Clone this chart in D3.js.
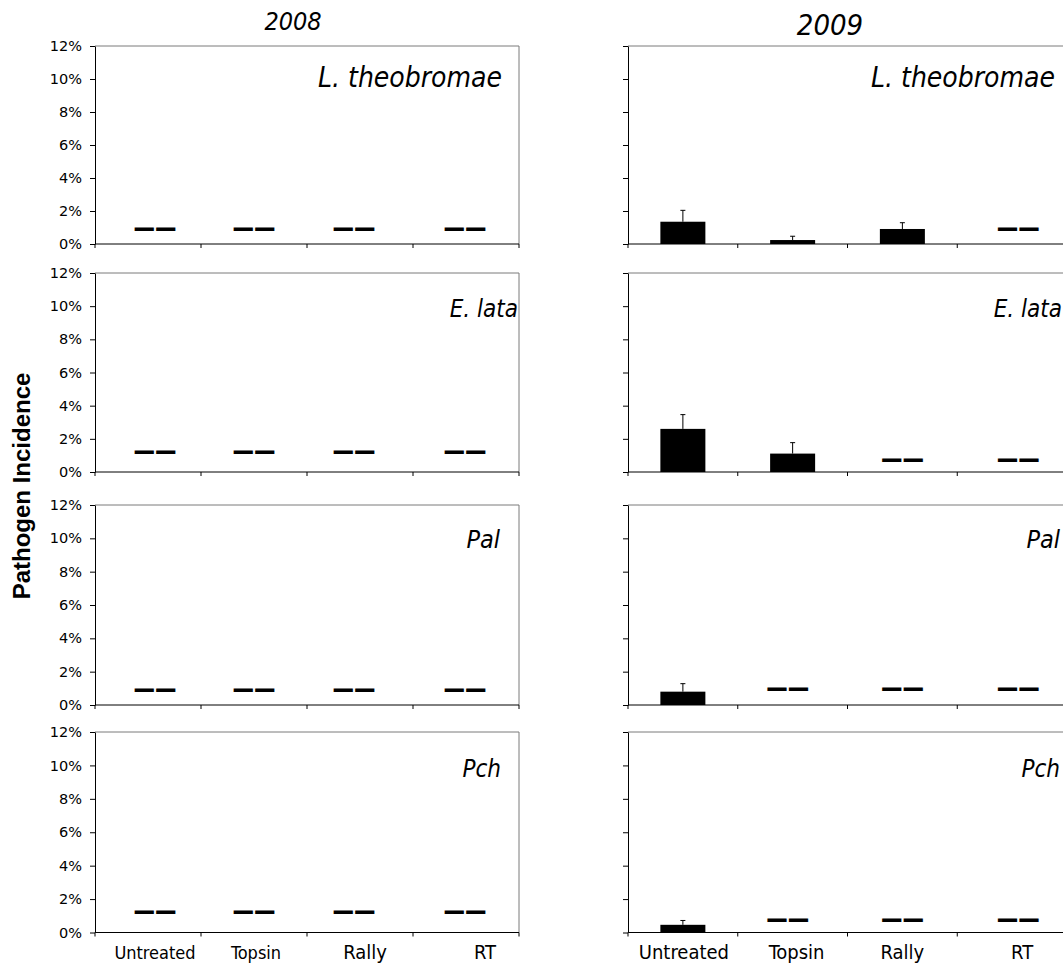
<!DOCTYPE html>
<html>
<head>
<meta charset="utf-8">
<script src="https://cdn.jsdelivr.net/npm/d3@7"></script>
<style>
  body { margin: 0; background: #fff; }
  svg { display: block; }
</style>
</head>
<body>
<svg id="chart" width="1063" height="965"></svg>
<script>
// ---- data ----
const categories = ["Untreated", "Topsin", "Rally", "RT"];
const years = ["2008", "2009"];
const pathogens = ["L. theobromae", "E. lata", "Pal", "Pch"];
const yTickValues = [0, 2, 4, 6, 8, 10, 12];
const yTickLabels = ["0%", "2%", "4%", "6%", "8%", "10%", "12%"];
const yAxisTitle = "Pathogen Incidence";

// mean incidence (%) per treatment
const theobromae2008 = [0, 0, 0, 0];
const lata2008 = [0, 0, 0, 0];
const pal2008 = [0, 0, 0, 0];
const pch2008 = [0, 0, 0, 0];
const theobromae2009 = [1.35, 0.24, 0.91, 0];
const lata2009 = [2.6, 1.11, 0, 0];
const pal2009 = [0.8, 0, 0, 0];
const pch2009 = [0.46, 0, 0, 0];

// standard error (%)
const theobromae2009Err = [0.69, 0.23, 0.38, 0];
const lata2009Err = [0.86, 0.66, 0, 0];
const pal2009Err = [0.48, 0, 0, 0];
const pch2009Err = [0.26, 0, 0, 0];
const noErr = [0, 0, 0, 0];

// level (%) where the "not detected" dash is written; null = no dash
const theobromae2008Dash = [0.89, 0.89, 0.89, 0.89];
const lata2008Dash = [1.19, 1.19, 1.19, 1.19];
const pal2008Dash = [0.9, 0.9, 0.9, 0.9];
const pch2008Dash = [1.22, 1.22, 1.22, 1.22];
const theobromae2009Dash = [null, null, null, 0.89];
const lata2009Dash = [null, null, 0.73, 0.73];
const pal2009Dash = [null, 0.94, 0.94, 0.94];
const pch2009Dash = [null, 0.75, 0.75, 0.75];

const panelValues = [
  [theobromae2008, theobromae2009],
  [lata2008, lata2009],
  [pal2008, pal2009],
  [pch2008, pch2009]
];
const panelErrors = [
  [noErr, theobromae2009Err],
  [noErr, lata2009Err],
  [noErr, pal2009Err],
  [noErr, pch2009Err]
];
const panelDashes = [
  [theobromae2008Dash, theobromae2009Dash],
  [lata2008Dash, lata2009Dash],
  [pal2008Dash, pal2009Dash],
  [pch2008Dash, pch2009Dash]
];

// ---- layout ----
const cols = [{ x0: 95, x1: 519 }, { x0: 628, x1: 1067 }];
const rows = [
  { y0: 46, y1: 244 },
  { y0: 273, y1: 472 },
  { y0: 505, y1: 705 },
  { y0: 732, y1: 932.5 }
];
const yearTitleStyle = [
  { x: 293, y: 30, size: 25 },
  { x: 830, y: 35, size: 29 }
];
const speciesStyle = [
  [{ x: 502, y: 87, size: 28 }, { x: 1055, y: 87, size: 28 }],
  [{ x: 518, y: 317, size: 24 }, { x: 1062, y: 317, size: 24 }],
  [{ x: 500, y: 548, size: 25 }, { x: 1060, y: 548, size: 25 }],
  [{ x: 501, y: 777, size: 24 }, { x: 1060, y: 777, size: 24 }]
];
const catLabelStyle = [
  [{ size: 18, dx: 7 }, { size: 18, dx: 2 }, { size: 20, dx: 5 }, { size: 20, dx: 19 }],
  [{ size: 20, dx: 1 }, { size: 20, dx: 4 }, { size: 20, dx: 0 }, { size: 20, dx: 10 }]
];
// horizontal nudge of the dash text inside each category slot
const dashNudge = [[7, 0, -6, -1], [0, -5, 0, 6]];

const svg = d3.select("#chart");
const condensed = "'DejaVu Sans Condensed', 'DejaVu Sans', sans-serif";

years.forEach((yr, c) => {
  const col = cols[c];
  svg.append("text")
    .attr("x", yearTitleStyle[c].x)
    .attr("y", yearTitleStyle[c].y)
    .attr("text-anchor", "middle")
    .style("font-family", condensed)
    .style("font-style", "italic")
    .style("font-size", yearTitleStyle[c].size + "px")
    .text(yr);

  pathogens.forEach((p, r) => {
    const row = rows[r];
    const x = d3.scaleBand().domain(categories).range([col.x0, col.x1]);
    const y = d3.scaleLinear().domain([0, 12]).range([row.y1, row.y0]);
    const g = svg.append("g");

    // frame: top and right edges
    g.append("path")
      .attr("d", `M${col.x0},${y(12)}H${col.x1}V${y(0)}`)
      .attr("fill", "none")
      .attr("stroke", "#7a7a7a")
      .attr("stroke-width", 1);

    // y axis
    const yAxis = d3.axisLeft(y)
      .tickValues(yTickValues)
      .tickSize(5)
      .tickSizeOuter(0)
      .tickPadding(8)
      .tickFormat((d, i) => (c === 0 ? yTickLabels[i] : ""));
    const ya = g.append("g")
      .attr("transform", `translate(${col.x0},0)`)
      .call(yAxis);
    ya.select(".domain").attr("stroke", "#000");
    ya.selectAll(".tick line").attr("stroke", "#000");
    ya.selectAll(".tick text")
      .style("font-family", "'DejaVu Sans', sans-serif")
      .style("font-size", "14.5px")
      .attr("fill", "#000");

    // x axis line and category boundary ticks
    g.append("line")
      .attr("x1", col.x0).attr("x2", col.x1)
      .attr("y1", y(0)).attr("y2", y(0))
      .attr("stroke", "#000");
    const bounds = categories.map(d => x(d)).concat([col.x1]);
    g.selectAll(".xtick").data(bounds).join("line")
      .attr("class", "xtick")
      .attr("x1", d => d).attr("x2", d => d)
      .attr("y1", y(0)).attr("y2", y(0) + 4)
      .attr("stroke", "#000");

    const vals = panelValues[r][c];
    const errs = panelErrors[r][c];
    const dashes = panelDashes[r][c];
    const bw = x.bandwidth() * 0.41;
    const cx = d => x(d) + x.bandwidth() / 2;

    // bars
    const barData = categories.map((cat, i) => ({ cat, v: vals[i], e: errs[i] })).filter(d => d.v > 0);
    g.selectAll(".bar").data(barData).join("rect")
      .attr("class", "bar")
      .attr("x", d => cx(d.cat) - bw / 2)
      .attr("width", bw)
      .attr("y", d => y(d.v))
      .attr("height", d => y(0) - y(d.v))
      .attr("fill", "#000");

    // error bars (upper half)
    const errData = barData.filter(d => d.e > 0);
    g.selectAll(".err").data(errData).join("line")
      .attr("class", "err")
      .attr("x1", d => cx(d.cat)).attr("x2", d => cx(d.cat))
      .attr("y1", d => y(d.v)).attr("y2", d => y(d.v + d.e))
      .attr("stroke", "#000");
    g.selectAll(".cap").data(errData).join("line")
      .attr("class", "cap")
      .attr("x1", d => cx(d.cat) - 2.5).attr("x2", d => cx(d.cat) + 2.5)
      .attr("y1", d => y(d.v + d.e)).attr("y2", d => y(d.v + d.e))
      .attr("stroke", "#000");

    // "not detected" dashes
    const dashData = categories.map((cat, i) => ({ cat, i, lvl: dashes[i] })).filter(d => d.lvl !== null);
    g.selectAll(".dash").data(dashData).join("text")
      .attr("class", "dash")
      .attr("x", d => cx(d.cat) + dashNudge[c][d.i] - 21.5)
      .attr("y", d => y(d.lvl) + 7.9)
      .attr("textLength", 43)
      .attr("lengthAdjust", "spacingAndGlyphs")
      .style("font-family", "'DejaVu Sans', sans-serif")
      .style("font-weight", "bold")
      .style("font-size", "28px")
      .text("\u2014\u2014");

    // pathogen name
    g.append("text")
      .attr("x", speciesStyle[r][c].x)
      .attr("y", speciesStyle[r][c].y)
      .attr("text-anchor", "end")
      .style("font-family", condensed)
      .style("font-style", "italic")
      .style("font-size", speciesStyle[r][c].size + "px")
      .text(p);

    // category labels under the bottom row
    if (r === pathogens.length - 1) {
      g.selectAll(".cat").data(categories).join("text")
        .attr("class", "cat")
        .attr("x", (d, i) => cx(d) + catLabelStyle[c][i].dx)
        .attr("y", 959)
        .attr("text-anchor", "middle")
        .style("font-family", condensed)
        .style("font-size", (d, i) => catLabelStyle[c][i].size + "px")
        .text(d => d);
    }
  });
});

// shared y axis title
svg.append("text")
  .attr("transform", "translate(30,486) rotate(-90)")
  .attr("text-anchor", "middle")
  .style("font-family", "'Liberation Sans', Arial, sans-serif")
  .style("font-weight", "bold")
  .style("font-size", "24px")
  .text(yAxisTitle);
</script>
</body>
</html>
